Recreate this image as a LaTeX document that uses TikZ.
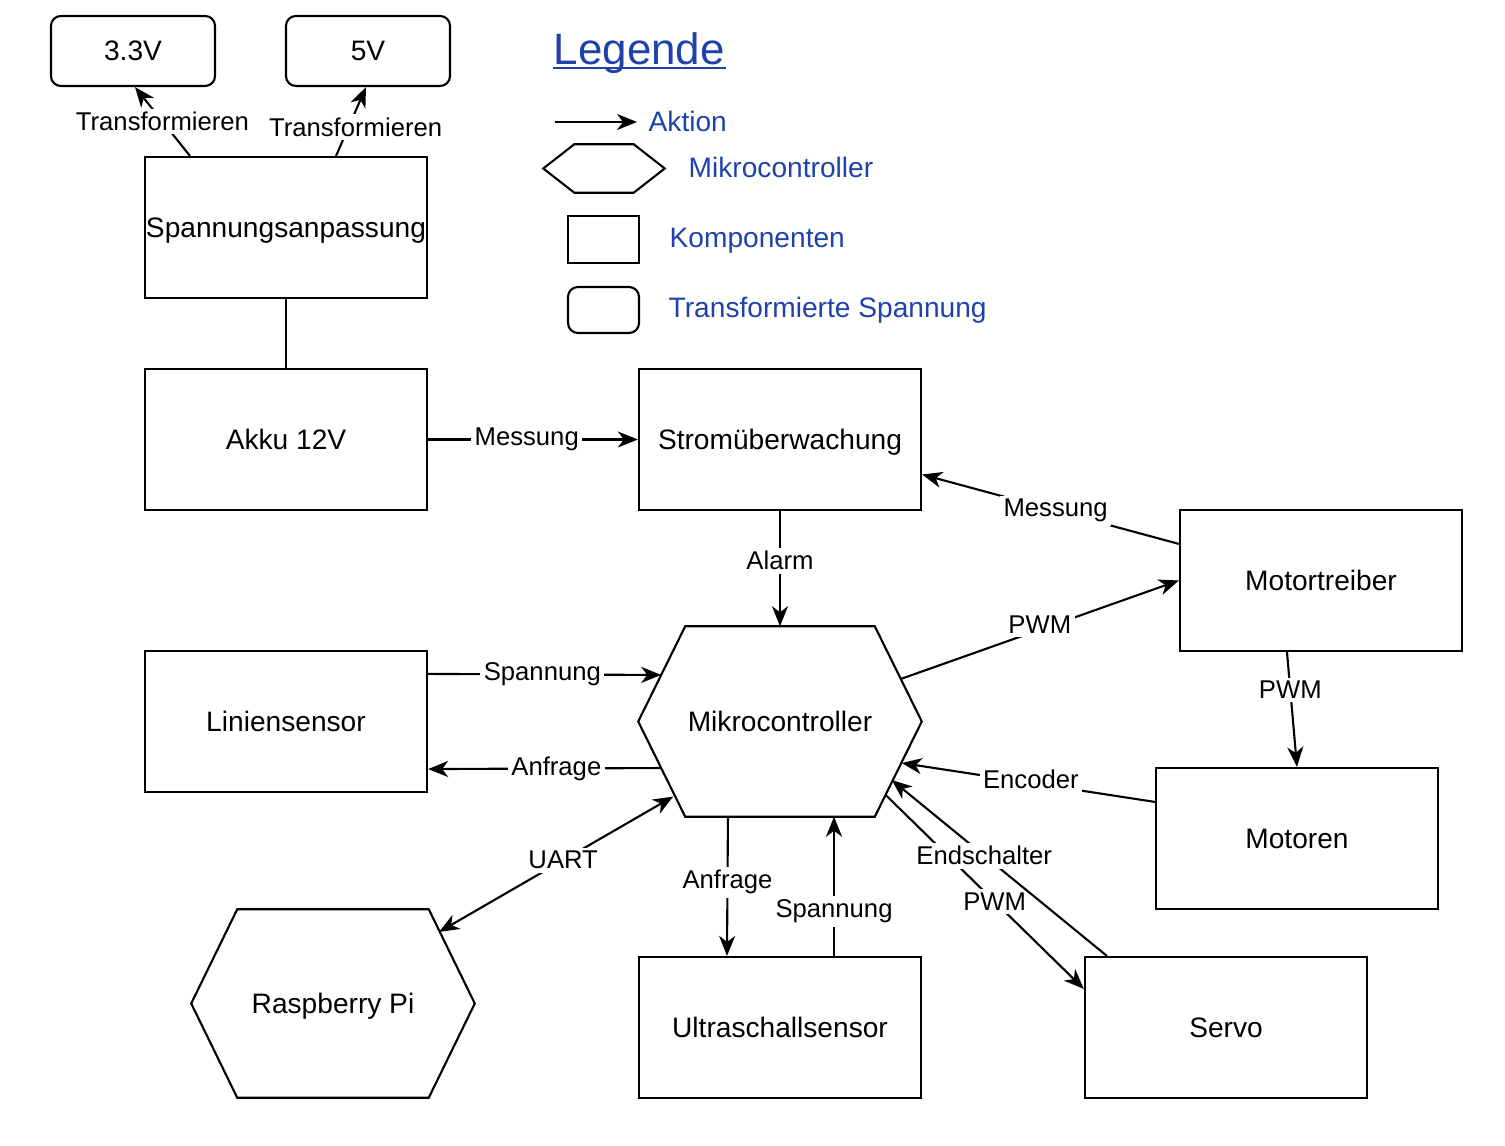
\documentclass[tikz,border=0pt]{standalone}
\usepackage{fontspec}
\setmainfont{Liberation Sans}
\usetikzlibrary{arrows.meta}
\definecolor{legblue}{RGB}{30,66,170}
\def\hexa#1#2{\draw[line width=0.6pt] (#1.west) -- ([xshift=#2]#1.north west) -- ([xshift=-#2]#1.north east) -- (#1.east) -- ([xshift=-#2]#1.south east) -- ([xshift=#2]#1.south west) -- cycle;}
\tikzset{
	box/.style={draw, line width=0.6pt, minimum width=2.82cm, minimum height=1.41cm, text depth=0pt, font=\fontsize{8}{9.6}\selectfont},
	volt/.style={box, rounded corners=1mm, minimum width=1.64cm, minimum height=0.7cm},
	hexnode/.style={minimum width=2.82cm, minimum height=1.89cm, text depth=0pt, font=\fontsize{8}{9.6}\selectfont},
	lbl/.style={fill=white, inner sep=1pt, font=\fontsize{7.3}{8.8}\selectfont},
	pfeil/.style={line width=0.6pt, -{Stealth[length=2mm,width=1.6mm,inset=0.6mm]}},
	doppel/.style={line width=0.6pt, {Stealth[length=2mm,width=1.6mm,inset=0.6mm]}-{Stealth[length=2mm,width=1.6mm,inset=0.6mm]}},
	leg/.style={anchor=base west, inner sep=0pt, text=legblue, font=\fontsize{8}{9.6}\selectfont},
}

\begin{document}
\begin{tikzpicture}[x=0.01cm, y=-0.01cm]
		%%%%% START %%%%%
		\useasboundingbox (0, 0) rectangle (1505, 1146);
		
		% Spannungen
		\node[volt] (v33) at (133, 51) {3.3V};
		\node[volt] (v5) at (368, 51) {5V};
		\node[box, inner xsep=0pt] (span) at (286, 227.5) {Spannungsanpassung};
		\node[box] (akku) at (286, 439.5) {Akku 12V};
		\node[box] (strom) at (780, 439.5) {Strom\"uberwachung};
		
		\draw[pfeil] ([xshift=-0.96cm]span.north) -- node[lbl] {Transformieren} ([xshift=0.02cm]v33.south);
		\draw[pfeil] ([xshift=0.5cm]span.north) -- node[lbl, pos=0.42, xshift=0.07cm] {Transformieren} ([xshift=-0.02cm]v5.south);
		\draw[line width=0.6pt] (span) -- (akku);
		\draw[pfeil] (akku) -- node[lbl, pos=0.47] {Messung} (strom);
		
		% Mikrocontroller
		\node[hexnode] (mc) at (780, 721.5) {Mikrocontroller};
		\hexa{mc}{0.47cm}
		\node[box] (mt) at (1321, 580.5) {Motortreiber};
		\node[box] (mot) at (1297, 838.5) {Motoren};
		\node[box] (lin) at (286, 721.5) {Liniensensor};
		\node[hexnode, minimum height=1.87cm] (rpi) at (333, 1003.5) {Raspberry Pi};
		\hexa{rpi}{0.46cm}
		\node[box] (us) at (780, 1027.5) {Ultraschallsensor};
		\node[box] (servo) at (1226, 1027.5) {Servo};
		
		\draw[pfeil] (strom) -- node[lbl, pos=0.43] {Alarm} (mc.north);
		\draw[pfeil] ([yshift=-0.35cm]mt.north west) -- node[lbl, pos=0.48] {Messung} ([yshift=-0.35cm]strom.east);
		\draw[pfeil] ([xshift=-0.21cm, yshift=0.425cm]mc.east) -- node[lbl, yshift=0.05cm] {PWM} (mt.west);
		\draw[pfeil] ([xshift=-0.34cm]mt.south) -- node[lbl, pos=0.33] {PWM} (mot.north);
		\draw[pfeil] ([yshift=-0.35cm]mot.north west) -- node[lbl, pos=0.49, yshift=0.04cm] {Encoder} ([xshift=-0.2cm, yshift=-0.415cm]mc.east);
		\draw[pfeil] ([xshift=-0.36cm, yshift=-0.735cm]mc.east) -- node[lbl, pos=0.55] {PWM} ([yshift=-0.33cm]servo.north west);
		\draw[pfeil] ([xshift=0.23cm]servo.north west) -- node[lbl, pos=0.57] {Endschalter} ([xshift=-0.3cm, yshift=-0.585cm]mc.east);
		\draw[pfeil] ([yshift=-0.24cm]lin.north east) -- node[lbl, pos=0.49] {Spannung} ([xshift=0.23cm, yshift=0.465cm]mc.west);
		\draw[pfeil] ([xshift=0.23cm, yshift=-0.465cm]mc.west) -- node[lbl, pos=0.45] {Anfrage} ([yshift=0.24cm]lin.south east);
		\draw[doppel] ([xshift=0.35cm, yshift=-0.75cm]mc.west) -- node[lbl, pos=0.47] {UART} ([xshift=1.06cm, yshift=0.715cm]rpi.center);
		\draw[pfeil] ([xshift=-0.52cm]mc.south) -- node[lbl, pos=0.47] {Anfrage} ([xshift=-0.53cm]us.north);
		\draw[pfeil] ([xshift=0.54cm]us.north) -- node[lbl, pos=0.32] {Spannung} ([xshift=0.54cm]mc.south);
		
		% Legende
		\node[leg, font=\fontsize{12.5}{15}\selectfont] (legtitel) at (553, 65) {Legende};
		\draw[legblue, line width=0.6pt] ([yshift=-0.03cm]legtitel.base west) -- ([yshift=-0.03cm]legtitel.base east);
		\coordinate (legpfeil) at (555, 122);
		\node[leg] (legaktion) at (648, 132) {Aktion};
		\draw[pfeil] (legpfeil) -- ++(0.82cm, 0);
		\node[minimum width=1.2cm, minimum height=0.47cm] (leghex) at (604, 168.5) {};
		\hexa{leghex}{0.31cm}
		\node[leg] (legmc) at (688, 177.5) {Mikrocontroller};
		\node[box, minimum width=0.71cm, minimum height=0.47cm] (legbox) at (603.5, 239.5) {};
		\node[leg] (legkomp) at (669, 248) {Komponenten};
		\node[volt, minimum width=0.71cm, minimum height=0.46cm] (legvolt) at (603.5, 310) {};
		\node[leg] (legspan) at (668, 318) {Transformierte Spannung};
		%%%%% END %%%%%
\end{tikzpicture}
\end{document}
